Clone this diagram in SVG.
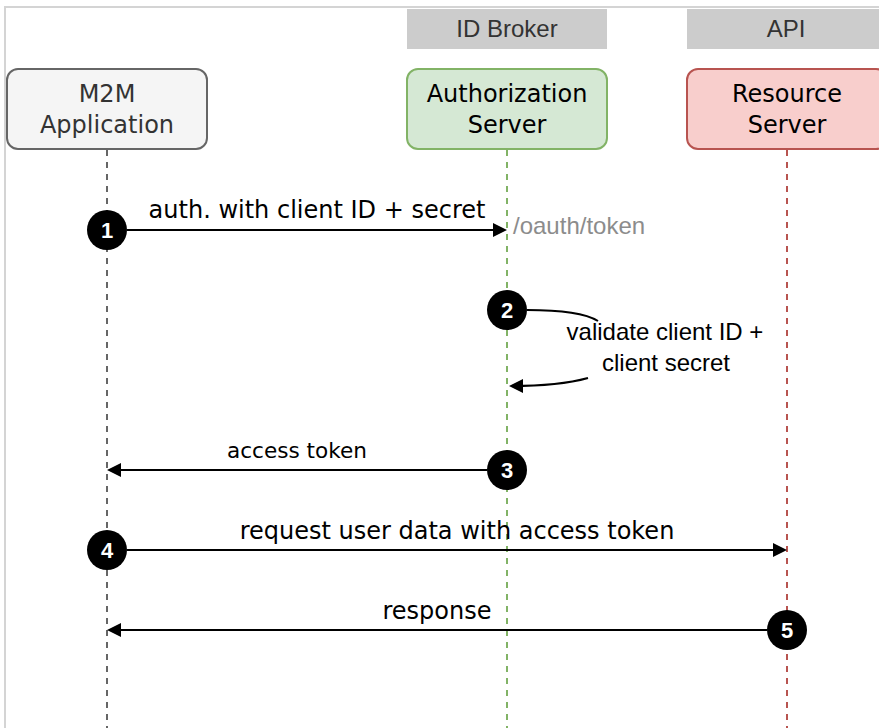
<svg xmlns="http://www.w3.org/2000/svg" width="879" height="728" viewBox="0 0 879 728">
<style>
.box{stroke-width:2}
.hdr{fill:#cccccc;stroke:none}
.hdrt{font-family:"Liberation Sans",Arial,sans-serif;font-size:24px;fill:#333333;text-anchor:middle}
.nt{font-family:"DejaVu Sans",Verdana,sans-serif;font-size:24px;text-anchor:middle}
.lbl{font-family:"DejaVu Sans",Verdana,sans-serif;font-size:24px;fill:#000;text-anchor:middle}
.alb{font-family:"Liberation Sans",Arial,sans-serif;font-size:24px;text-anchor:middle;fill:#000}
.life{stroke-width:2;stroke-dasharray:6 6;fill:none}
.msg{stroke:#000;stroke-width:2;fill:none}
.num circle{fill:#000}
.num text{font-family:"Liberation Sans",Arial,sans-serif;font-size:22px;font-weight:bold;fill:#fff;text-anchor:middle}
</style>
<defs>
<marker id="ah" viewBox="0 0 14 14" markerWidth="14" markerHeight="14" refX="12" refY="7" orient="auto" markerUnits="userSpaceOnUse">
<path d="M0,0 L14,7 L0,14 Z" fill="#000"/>
</marker>
</defs>
<rect width="879" height="728" fill="#fff"/>
<path d="M5,728 V7 H879" fill="none" stroke="#d4d4d4" stroke-width="2"/>

<g id="lifelines">
<line class="life" x1="107" y1="150" x2="107" y2="728" stroke="#666666"/>
<line class="life" x1="507" y1="150" x2="507" y2="728" stroke="#82b366"/>
<line class="life" x1="787" y1="150" x2="787" y2="728" stroke="#b85450"/>
</g>

<g id="hdr-idbroker">
<rect class="hdr" x="407" y="9" width="200" height="40"/>
<text class="hdrt" x="507" y="37">ID Broker</text>
</g>
<g id="hdr-api">
<rect class="hdr" x="687" y="9" width="200" height="40"/>
<text class="hdrt" x="786" y="37">API</text>
</g>

<g id="m2m">
<rect class="box" x="7" y="69" width="200" height="80" rx="11" fill="#f5f5f5" stroke="#666666"/>
<text class="nt" x="107" y="102" fill="#333333">M2M</text>
<text class="nt" x="107" y="133" fill="#333333">Application</text>
</g>
<g id="authserver">
<rect class="box" x="407" y="69" width="200" height="80" rx="11" fill="#d5e8d4" stroke="#82b366"/>
<text class="nt" x="507" y="102" fill="#000">Authorization</text>
<text class="nt" x="507" y="133" fill="#000">Server</text>
</g>
<g id="resserver">
<rect class="box" x="687" y="69" width="200" height="80" rx="11" fill="#f8cecc" stroke="#b85450"/>
<text class="nt" x="787" y="102" fill="#000">Resource</text>
<text class="nt" x="787" y="133" fill="#000">Server</text>
</g>

<g id="connectors">
<line class="msg" x1="127" y1="230" x2="505" y2="230" marker-end="url(#ah)"/>
<path class="msg" d="M527,310 C560,310 585,313 598,321"/>
<path class="msg" d="M588,378 C570,383 545,386 511,386" marker-end="url(#ah)"/>
<line class="msg" x1="487" y1="470" x2="109" y2="470" marker-end="url(#ah)"/>
<line class="msg" x1="127" y1="550" x2="785" y2="550" marker-end="url(#ah)"/>
<line class="msg" x1="767" y1="630" x2="109" y2="630" marker-end="url(#ah)"/>
</g>

<g id="labels">
<text class="lbl" x="317" y="218">auth. with client ID + secret</text>
<text x="513" y="234" font-family="Liberation Sans, Arial, sans-serif" font-size="24" fill="#8c8c8c">/oauth/token</text>
<text class="alb" x="665" y="340">validate client ID +</text>
<text class="alb" x="666" y="371">client secret</text>
<text class="lbl" x="297" y="458" font-size="22" textLength="140" lengthAdjust="spacingAndGlyphs" style="font-size:22px">access token</text>
<text class="lbl" x="457" y="539">request user data with access token</text>
<text class="lbl" x="437" y="619">response</text>
</g>

<g id="step1" class="num"><circle cx="107" cy="230" r="20"/><text x="107" y="238">1</text></g>
<g id="step2" class="num"><circle cx="507" cy="310" r="20"/><text x="507" y="318">2</text></g>
<g id="step3" class="num"><circle cx="507" cy="470" r="20"/><text x="507" y="478">3</text></g>
<g id="step4" class="num"><circle cx="107" cy="550" r="20"/><text x="107" y="558">4</text></g>
<g id="step5" class="num"><circle cx="787" cy="630" r="20"/><text x="787" y="638">5</text></g>
</svg>
